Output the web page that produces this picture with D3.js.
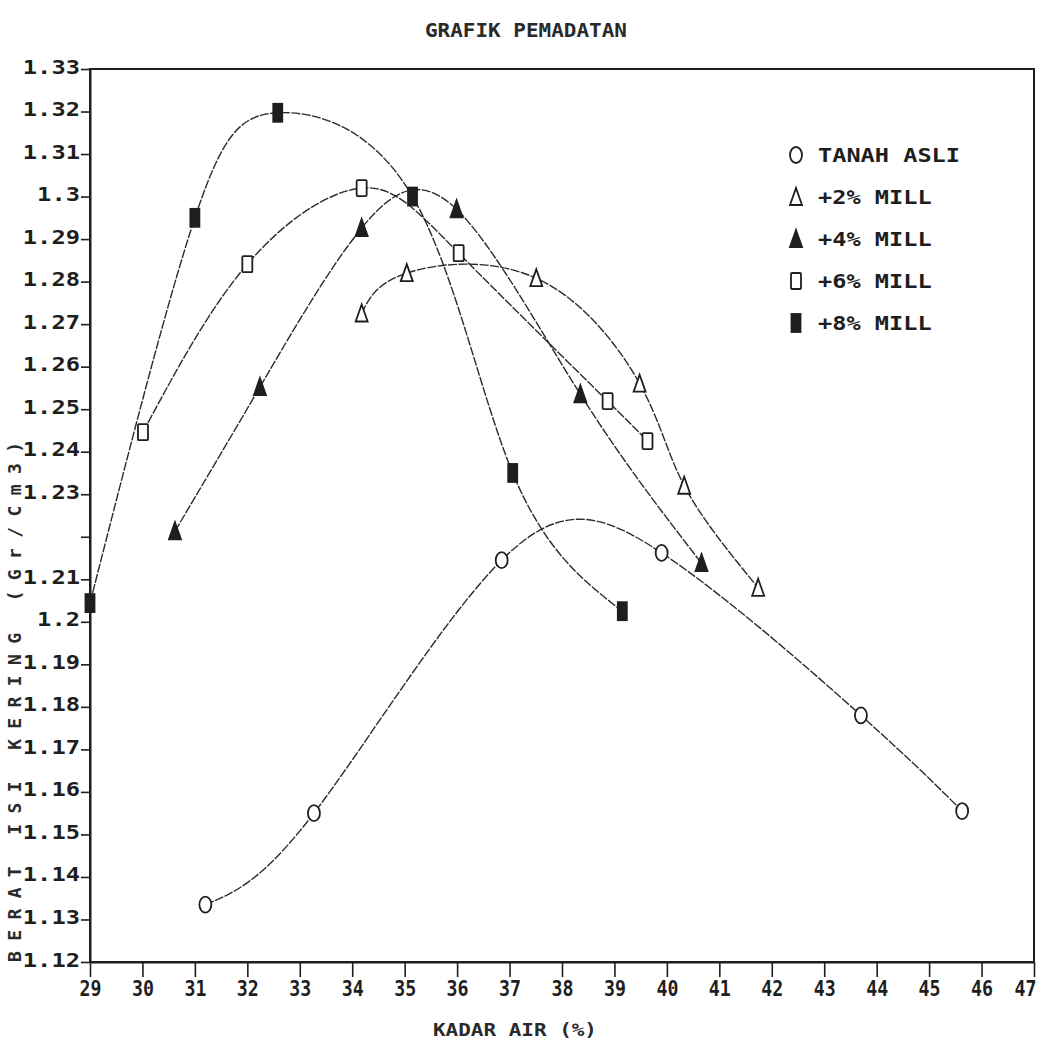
<!DOCTYPE html>
<html>
<head>
<meta charset="utf-8">
<script src="https://cdn.jsdelivr.net/npm/d3@7"></script>
<style>
  body { margin: 0; background: #ffffff; }
  svg { display: block; }
</style>
</head>
<body>
<div id="chart"></div>
<script>
// data
var seriesNames = ["TANAH ASLI", "+2% MILL", "+4% MILL", "+6% MILL", "+8% MILL"];
var seriesMarks = ["circle", "triOpen", "triFill", "rectOpen", "rectFill"];

var tanahAsliX = [31.2, 33.27, 36.85, 39.9, 43.7, 45.63];
var tanahAsliY = [1.1335, 1.155, 1.2145, 1.2162, 1.178, 1.1555];
var mill2X = [34.18, 35.04, 37.51, 39.48, 40.33, 41.74];
var mill2Y = [1.2725, 1.282, 1.2808, 1.256, 1.232, 1.208];
var mill4X = [30.62, 32.24, 34.18, 35.99, 38.35, 40.66];
var mill4Y = [1.2213, 1.2552, 1.2926, 1.297, 1.2535, 1.2138];
var mill6X = [30.01, 32.0, 34.18, 36.03, 38.87, 39.63];
var mill6Y = [1.2446, 1.2841, 1.302, 1.2867, 1.2519, 1.2425];
var mill8X = [29.0, 31.0, 32.58, 35.15, 37.06, 39.15];
var mill8Y = [1.2044, 1.295, 1.3197, 1.3, 1.235, 1.2025];

var xTicks = [29, 30, 31, 32, 33, 34, 35, 36, 37, 38, 39, 40, 41, 42, 43, 44, 45, 46, 47];
var xTickLabels = ["29", "30", "31", "32", "33", "34", "35", "36", "37", "38", "39", "40", "41", "42", "43", "44", "45", "46", "47"];
var yTicks = [1.12, 1.13, 1.14, 1.15, 1.16, 1.17, 1.18, 1.19, 1.2, 1.21, 1.22, 1.23, 1.24, 1.25, 1.26, 1.27, 1.28, 1.29, 1.3, 1.31, 1.32, 1.33];
var yTickLabels = ["1.12", "1.13", "1.14", "1.15", "1.16", "1.17", "1.18", "1.19", "1.2", "1.21", "", "1.23", "1.24", "1.25", "1.26", "1.27", "1.28", "1.29", "1.3", "1.31", "1.32", "1.33"];

var seriesX = [tanahAsliX, mill2X, mill4X, mill6X, mill8X];
var seriesY = [tanahAsliY, mill2Y, mill4Y, mill6Y, mill8Y];

var width = 1041, height = 1045;
var margin = {top: 69, left: 90, right: 7, bottom: 83};
var ink = "#1e1e1e";
var monoFont = "'DejaVu Sans Mono', 'Liberation Mono', monospace";

var svg = d3.select("#chart").append("svg")
  .attr("width", width)
  .attr("height", height)
  .style("background", "#ffffff");

var x = d3.scaleLinear().domain([29, 47]).range([margin.left, width - margin.right]);
var y = d3.scaleLinear().domain([1.12, 1.33]).range([height - margin.bottom, margin.top]);

// frame
svg.append("rect")
  .attr("x", x(29)).attr("y", y(1.33))
  .attr("width", x(47) - x(29)).attr("height", y(1.12) - y(1.33))
  .attr("fill", "none").attr("stroke", ink).attr("stroke-width", 2);

// axes
var xAxis = svg.append("g")
  .attr("transform", "translate(0," + y(1.12) + ")")
  .call(d3.axisBottom(x).tickValues(xTicks)
    .tickFormat(function(d, i){ return xTickLabels[i]; })
    .tickSize(15).tickSizeOuter(0).tickPadding(4));
var yAxis = svg.append("g")
  .attr("transform", "translate(" + x(29) + ",0)")
  .call(d3.axisLeft(y).tickValues(yTicks)
    .tickFormat(function(d, i){ return yTickLabels[i]; })
    .tickSize(9).tickSizeOuter(0).tickPadding(1));

[xAxis, yAxis].forEach(function(ax){
  ax.select(".domain").attr("stroke", ink).attr("stroke-width", 2);
  ax.selectAll(".tick line").attr("stroke", ink).attr("stroke-width", 1.6);
  ax.selectAll(".tick text")
    .attr("fill", ink)
    .style("font-family", monoFont)
    .style("font-weight", "bold");
});
xAxis.selectAll(".tick text")
  .style("font-size", "21px")
  .attr("textLength", 22).attr("lengthAdjust", "spacingAndGlyphs")
  .attr("x", function(d){ return d === 47 ? -9 : 0; });
yAxis.selectAll(".tick text")
  .style("font-size", "20px").attr("dy", "0.2em")
  .attr("textLength", function(d, i){ return yTickLabels[i].length * 14.3 || null; })
  .attr("lengthAdjust", "spacingAndGlyphs");

// titles
svg.append("text")
  .attr("x", 526).attr("y", 37)
  .attr("text-anchor", "middle")
  .attr("textLength", 202).attr("lengthAdjust", "spacingAndGlyphs")
  .style("font-family", monoFont).style("font-weight", "bold").style("font-size", "19px")
  .attr("fill", "#2a2a2a")
  .text("GRAFIK PEMADATAN");

svg.append("text")
  .attr("x", 515).attr("y", 1036)
  .attr("text-anchor", "middle")
  .attr("textLength", 164).attr("lengthAdjust", "spacingAndGlyphs")
  .style("font-family", monoFont).style("font-weight", "bold").style("font-size", "17px")
  .attr("fill", "#2a2a2a")
  .text("KADAR AIR (%)");

svg.append("text")
  .attr("transform", "translate(21,702) rotate(-90)")
  .attr("text-anchor", "middle")
  .attr("textLength", 520).attr("lengthAdjust", "spacing")
  .style("font-family", monoFont).style("font-weight", "bold").style("font-size", "18px")
  .attr("fill", "#2a2a2a")
  .text("BERAT ISI KERING (Gr/Cm3)");

// curves
var line = d3.line()
  .x(function(d){ return x(d[0]); })
  .y(function(d){ return y(d[1]); })
  .curve(d3.curveNatural);

var plot = svg.append("g");
seriesX.forEach(function(xs, k){
  var pts = xs.map(function(v, i){ return [v, seriesY[k][i]]; });
  plot.append("path")
    .datum(pts)
    .attr("d", line)
    .attr("fill", "none")
    .attr("stroke", "#2b2b2b")
    .attr("stroke-width", 1.4)
    .attr("stroke-dasharray", "9,1.5");
});

function drawMarker(g, type, cx, cy){
  var m;
  if(type === "circle"){
    m = g.append("ellipse").attr("cx", cx).attr("cy", cy).attr("rx", 6).attr("ry", 8);
  }else if(type === "triOpen" || type === "triFill"){
    m = g.append("path")
      .attr("d", "M" + cx + "," + (cy - 9) + "L" + (cx + 6) + "," + (cy + 8) + "L" + (cx - 6) + "," + (cy + 8) + "Z");
  }else if(type === "rectOpen"){
    m = g.append("rect").attr("x", cx - 5).attr("y", cy - 8).attr("width", 10).attr("height", 16).attr("rx", 1);
  }else{
    m = g.append("rect").attr("x", cx - 4.5).attr("y", cy - 9).attr("width", 9).attr("height", 18);
  }
  var filled = (type === "triFill" || type === "rectFill");
  m.attr("fill", filled ? ink : "#ffffff")
    .attr("stroke", ink)
    .attr("stroke-width", 1.8);
}

seriesX.forEach(function(xs, k){
  xs.forEach(function(v, i){
    drawMarker(plot, seriesMarks[k], x(v), y(seriesY[k][i]));
  });
});

// legend
var legend = svg.append("g");
seriesNames.forEach(function(name, k){
  var ly = 155 + k * 42;
  drawMarker(legend, seriesMarks[k], 796, ly);
  legend.append("text")
    .attr("x", 818).attr("y", ly + 7)
    .attr("textLength", name.length * 14.2).attr("lengthAdjust", "spacingAndGlyphs")
    .style("font-family", monoFont).style("font-weight", "bold").style("font-size", "19px")
    .attr("fill", ink)
    .text(name);
});
</script>
</body>
</html>
